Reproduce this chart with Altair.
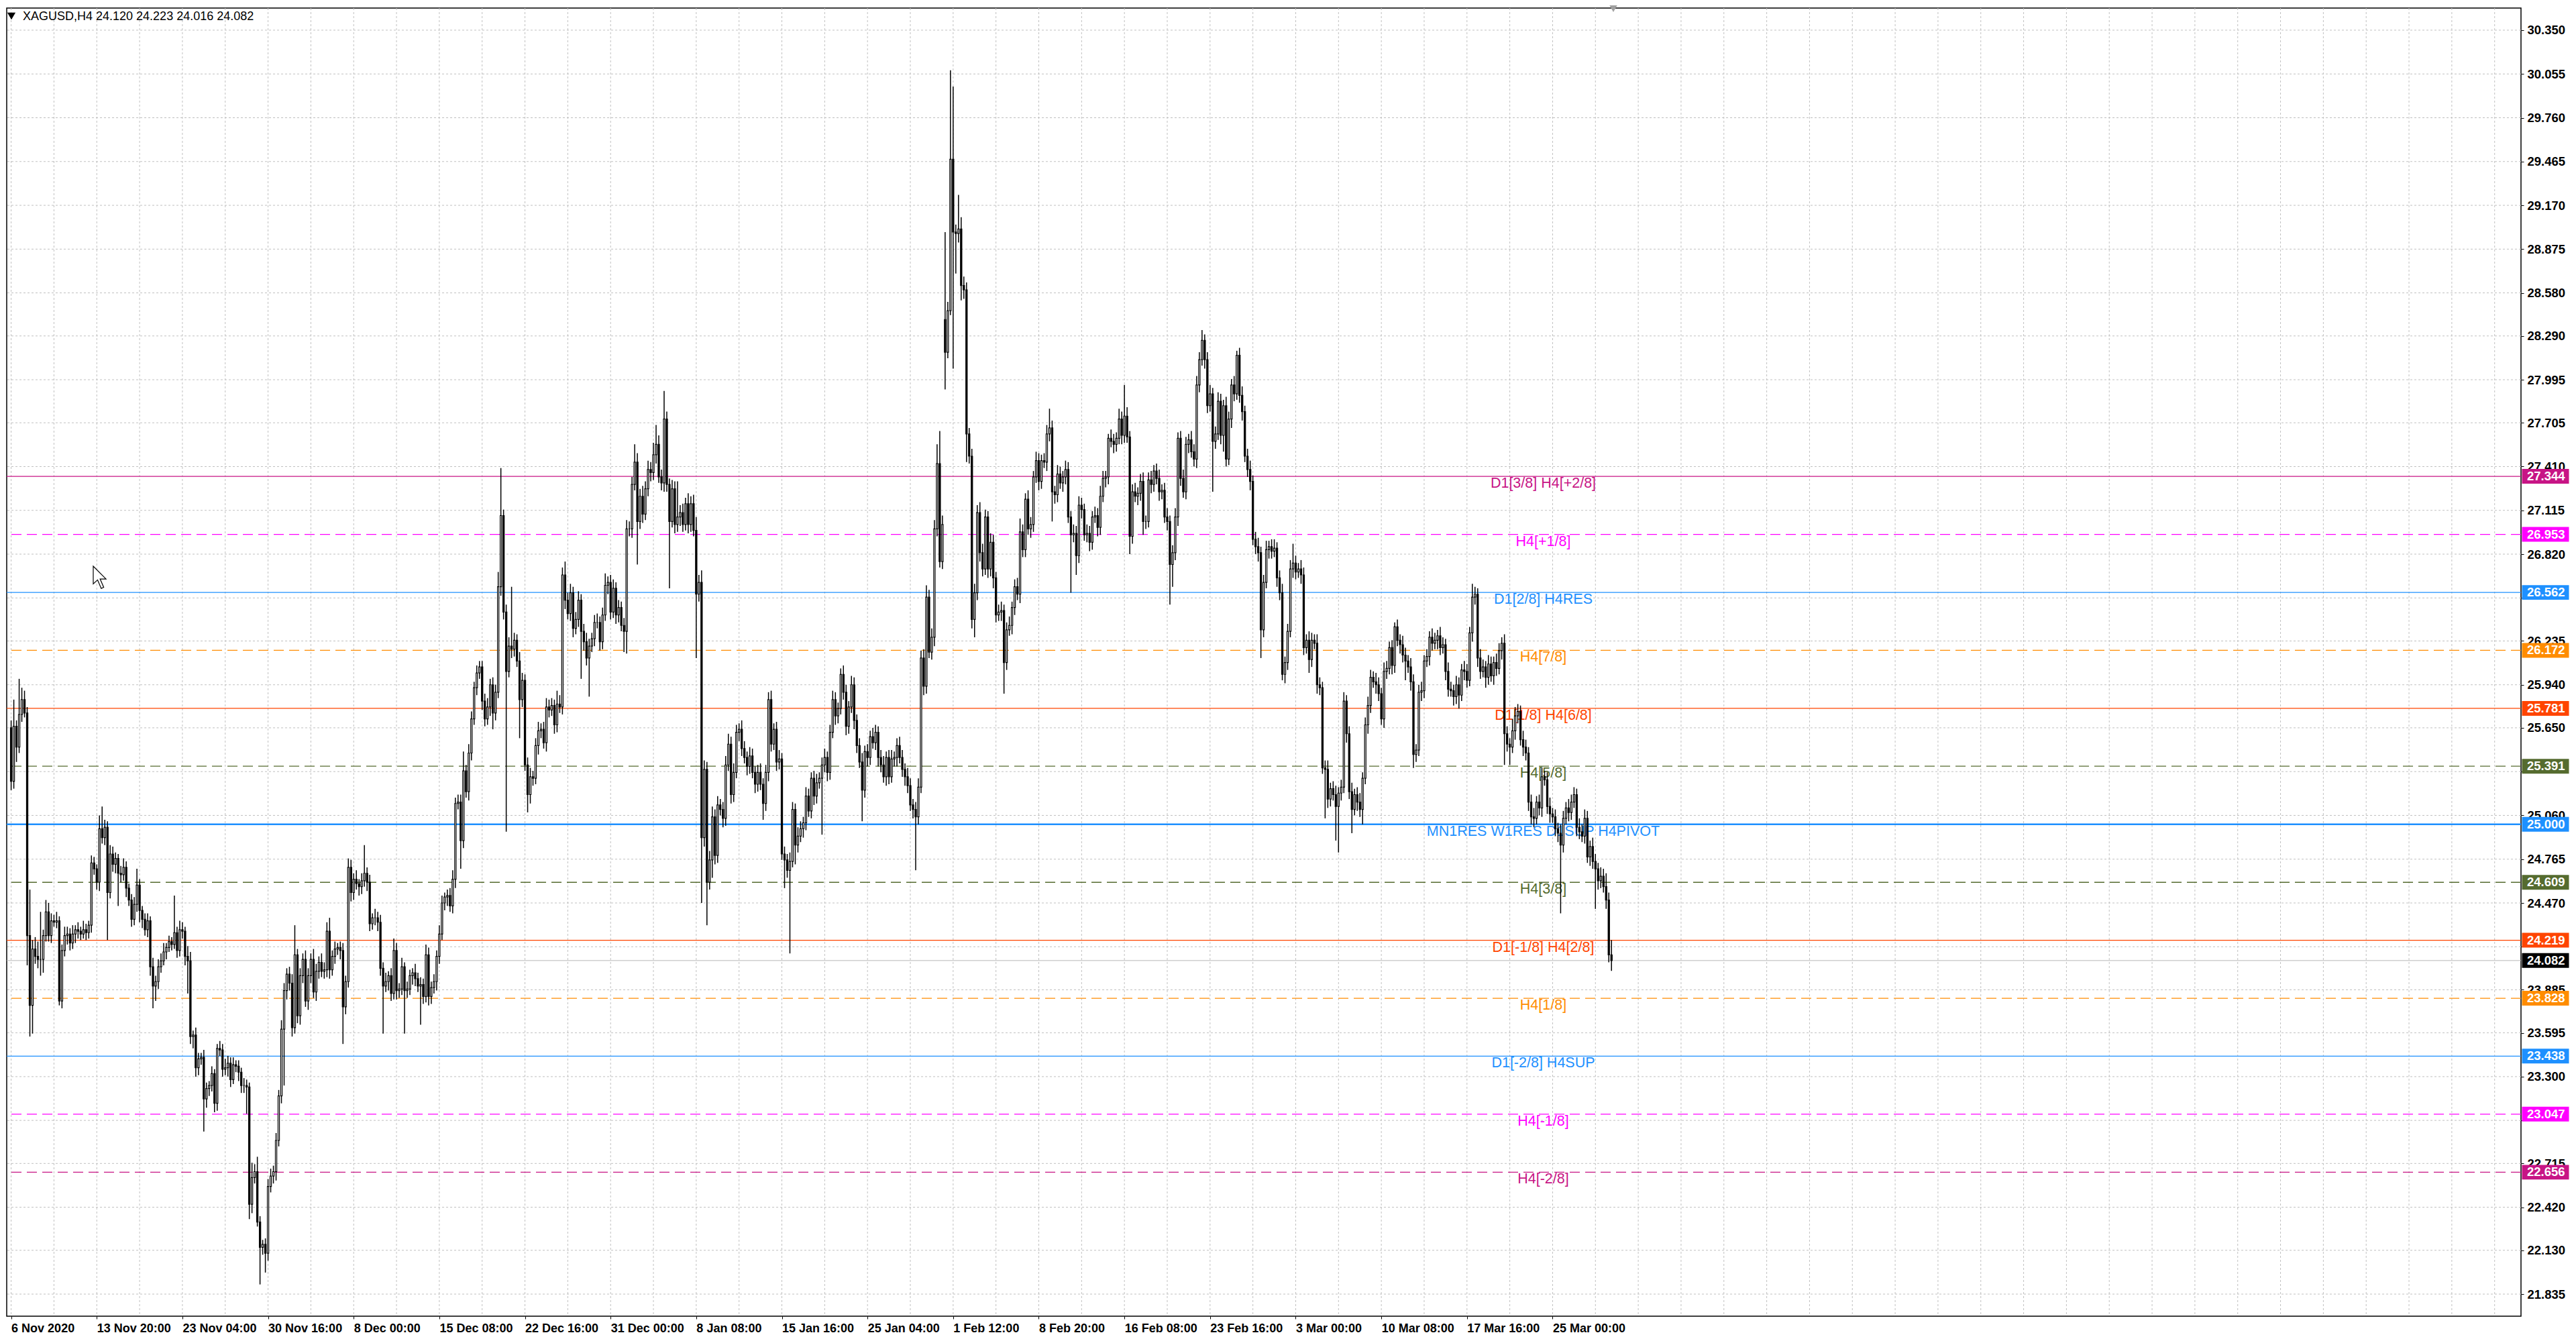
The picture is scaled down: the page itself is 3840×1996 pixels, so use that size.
import altair as alt
import pandas as pd

# -----------------------------
# DATA (XAGUSD H4 candles)
# -----------------------------
first_open = 25.65
gap_opens = {349: 28.40}  # Monday 1 Feb gap

close_nov = [
    25.29, 25.66, 25.52, 25.74, 25.84, 25.75, 24.25, 23.78, 24.16, 24.11,
    24.09, 24.09, 24.25, 24.41, 24.25, 24.35, 24.34, 24.35, 23.81, 24.15,
    24.25, 24.26, 24.20, 24.26, 24.29, 24.28, 24.26, 24.29, 24.27, 24.32,
    24.74, 24.70, 24.61, 24.97, 24.91, 24.98, 24.54, 24.80, 24.73, 24.77,
    24.67, 24.66, 24.71, 24.57, 24.49, 24.36, 24.46, 24.59, 24.42, 24.36,
    24.29, 24.35, 24.04, 23.91, 23.94, 24.04, 24.08, 24.14, 24.17, 24.21,
    24.19, 24.27, 24.15, 24.29, 24.28, 24.11, 24.08, 23.57, 23.58, 23.36,
    23.42, 23.43, 23.15, 23.22, 23.24, 23.32, 23.12, 23.49, 23.48, 23.35,
    23.36, 23.39, 23.28, 23.38, 23.37, 23.33, 23.24, 23.24, 23.23, 22.44,
    22.62, 22.66, 22.32, 22.15, 22.17, 22.11, 22.56, 22.63,
]
close_dec = [
    22.66, 22.87, 23.17, 23.62, 23.88, 23.99, 23.93, 23.63, 24.12, 23.71,
    23.98, 24.09, 23.81, 23.98, 24.09, 23.87, 24.01, 24.07, 24.01, 24.02,
    24.28, 24.02, 24.11, 24.16, 24.17, 24.15, 23.77, 23.94, 24.71, 24.54,
    24.63, 24.60, 24.58, 24.62, 24.67, 24.61, 24.33, 24.37, 24.37, 24.34,
    24.03, 23.91, 23.94, 23.98, 23.86, 24.15, 23.88, 23.89, 24.04, 23.88,
    23.89, 23.98, 24.00, 23.96, 23.91, 23.92, 23.84, 24.12, 23.84, 23.90,
    23.94, 24.11, 24.26, 24.47, 24.51, 24.52, 24.45, 24.63, 25.14, 25.15,
    24.89, 25.36, 25.22, 25.48, 25.71, 25.92, 26.02, 26.06, 25.83, 25.71,
    25.79, 25.94, 25.75, 25.89, 26.60, 27.08, 26.43, 26.03, 26.20, 26.18,
    26.24, 26.10, 25.84, 25.97, 25.40, 25.20, 25.32, 25.31, 25.53, 25.63,
    25.64, 25.55, 25.79, 25.77, 25.80, 25.67, 25.81, 25.79, 26.68, 26.51,
    26.42, 26.56, 26.32, 26.38, 26.51, 26.30, 26.23, 26.12, 26.20, 26.25,
    26.36, 26.36, 26.23, 26.41, 26.61, 26.63, 26.43, 26.59, 26.41, 26.46,
    26.34, 26.30,
]
close_jan = [
    26.99, 26.99, 27.29, 27.44, 27.04, 27.21, 27.09, 27.26, 27.39, 27.37,
    27.49, 27.56, 27.34, 27.30, 27.73, 27.29, 27.04, 27.26, 27.02, 27.07,
    27.10, 27.02, 27.16, 27.02, 27.16, 26.98, 26.55, 26.63, 24.91, 25.37,
    24.61, 24.76, 25.05, 24.79, 25.13, 25.10, 25.04, 25.40, 25.54, 25.20,
    25.35, 25.62, 25.64, 25.51, 25.45, 25.39, 25.46, 25.35, 25.27, 25.35,
    25.27, 25.14, 25.35, 25.84, 25.54, 25.64, 25.42, 25.44, 24.80, 24.76,
    24.69, 24.75, 25.10, 24.86, 24.92, 24.97, 25.01, 25.19, 25.09, 25.31,
    25.19, 25.28, 25.31, 25.40, 25.45, 25.35, 25.62, 25.84, 25.73, 25.78,
    26.01, 25.89, 25.66, 25.79, 25.94, 25.70, 25.53, 25.42, 25.23, 25.49,
    25.45, 25.59, 25.55, 25.62, 25.45, 25.40, 25.32, 25.45, 25.32, 25.44,
    25.45, 25.53, 25.45, 25.37, 25.32, 25.26, 25.13, 25.10, 25.05, 25.25,
    26.12, 25.93, 26.53, 26.16, 26.26, 26.99, 27.43, 26.77, 27.02,
]
close_feb = [
    28.18, 28.46, 29.48, 28.99, 28.98, 29.01, 28.63, 28.60, 27.63, 27.48,
    26.38, 26.56, 27.10, 26.83, 26.72, 27.07, 26.72, 26.90, 26.66, 26.41,
    26.43, 26.44, 26.09, 26.31, 26.34, 26.46, 26.60, 26.55, 26.97, 26.85,
    27.19, 26.99, 27.02, 27.34, 27.45, 27.31, 27.45, 27.44, 27.63, 27.67,
    27.24, 27.22, 27.36, 27.30, 27.34, 27.39, 27.07, 26.95, 26.96, 26.81,
    27.15, 27.12, 26.95, 26.96, 26.90, 27.07, 27.08, 27.00, 27.21, 27.33,
    27.34, 27.60, 27.58, 27.56, 27.60, 27.73, 27.62, 27.75, 27.61, 26.94,
    27.24, 27.21, 27.23, 27.31, 27.04, 27.04, 27.32, 27.29, 27.38, 27.33,
    27.24, 27.25, 27.07, 27.04, 26.75, 26.83, 27.07, 27.60, 27.33, 27.24,
    27.56, 27.59, 27.51, 27.46, 27.96, 28.13, 28.26, 28.13, 27.82, 27.90,
    27.58, 27.63, 27.85, 27.62, 27.82, 27.46, 27.73, 27.96, 27.90, 28.16,
    27.89, 27.78, 27.48, 27.39, 27.31, 26.92, 26.87, 26.83, 26.31,
]
close_mar = [
    26.63, 26.85, 26.87, 26.84, 26.86, 26.66, 26.56, 26.01, 26.09, 26.30,
    26.72, 26.76, 26.70, 26.72, 26.68, 26.19, 26.24, 26.11, 26.24, 26.22,
    25.94, 25.92, 25.38, 25.37, 25.17, 25.24, 25.20, 25.12, 25.21, 25.25,
    25.83, 25.61, 25.22, 25.10, 25.20, 25.15, 25.10, 25.31, 25.67, 25.80,
    25.99, 25.96, 25.94, 25.88, 25.71, 26.03, 26.05, 26.19, 26.07, 26.33,
    26.24, 26.21, 26.14, 26.10, 26.06, 25.96, 25.47, 25.50, 25.89, 25.90,
    26.10, 26.13, 26.26, 26.22, 26.24, 26.27, 26.19, 26.21, 26.03, 25.91,
    25.90, 25.86, 25.94, 25.87, 26.04, 26.03, 25.97, 26.29, 26.53, 26.55,
    26.12, 26.03, 26.06, 25.99, 26.08, 26.00, 26.09, 26.05, 26.17, 26.22,
    25.61, 25.54, 25.52, 25.63, 25.73, 25.76, 25.57, 25.52, 25.48, 25.15,
    25.05, 25.04, 25.15, 25.11, 25.32, 25.30, 25.12, 25.07, 25.05, 24.97,
    24.94, 24.86, 25.04, 25.11, 25.08, 25.15, 25.20, 24.98, 24.95, 24.92,
    25.04, 24.78, 24.85, 24.75, 24.70, 24.62, 24.65, 24.58, 24.49, 24.12,
    24.082,
]

# wick length above / below the body, in cents
up_nov = [5, 18, 4, 24, 8, 6, 4, 31, 6, 8, 10, 32, 4, 8, 6, 5, 4, 6, 3, 4,
          6, 5, 4, 6, 3, 5, 3, 6, 4, 3, 5, 4, 3, 9, 15, 5, 4, 6, 5, 4,
          3, 5, 6, 4, 3, 4, 5, 11, 4, 3, 4, 5, 3, 6, 4, 5, 5, 6, 3, 4,
          3, 25, 4, 6, 5, 3, 7, 6, 3, 5, 4, 3, 5, 4, 3, 5, 3, 3, 5, 4,
          6, 5, 4, 5, 3, 4, 3, 5, 4, 3, 10, 5, 10, 4, 3, 4, 5, 5]
dn_nov = [6, 5, 10, 4, 5, 3, 20, 21, 19, 5, 6, 11, 9, 4, 4, 5, 3, 4, 3, 5,
          4, 6, 5, 4, 6, 5, 4, 3, 5, 4, 5, 4, 5, 6, 4, 5, 32, 4, 5, 6,
          22, 5, 4, 6, 4, 5, 4, 5, 8, 6, 4, 5, 6, 15, 10, 5, 4, 3, 5, 3,
          4, 3, 5, 4, 5, 6, 22, 5, 8, 6, 5, 4, 22, 6, 5, 4, 6, 5, 4, 5,
          4, 6, 5, 3, 4, 6, 5, 5, 18, 10, 6, 4, 3, 25, 5, 13, 5, 4]
up_dec = [4, 5, 4, 6, 5, 4, 5, 6, 20, 4, 5, 4, 6, 5, 4, 7, 5, 4, 6, 5,
          6, 9, 4, 5, 3, 4, 5, 4, 6, 5, 4, 6, 3, 5, 19, 4, 5, 3, 6, 4,
          5, 4, 6, 3, 5, 8, 5, 4, 6, 3, 5, 4, 3, 6, 4, 5, 4, 7, 5, 4,
          5, 4, 6, 5, 3, 4, 5, 6, 4, 5, 5, 13, 4, 6, 5, 4, 5, 4, 4, 5,
          6, 4, 5, 5, 10, 32, 4, 5, 6, 40, 5, 4, 6, 5, 4, 5, 6, 4, 5, 6,
          4, 5, 6, 5, 5, 4, 9, 6, 5, 9, 5, 6, 4, 5, 6, 4, 5, 6, 5, 4,
          5, 6, 4, 5, 8, 4, 5, 6, 4, 5, 4, 5]
dn_dec = [5, 6, 4, 5, 38, 6, 5, 6, 4, 5, 6, 5, 4, 6, 5, 4, 6, 5, 4, 5,
          5, 6, 4, 5, 4, 6, 25, 5, 4, 6, 5, 4, 6, 5, 4, 6, 5, 4, 5, 6,
          5, 32, 4, 6, 5, 4, 6, 5, 4, 29, 5, 4, 6, 5, 4, 26, 5, 4, 6, 5,
          4, 6, 5, 4, 5, 6, 4, 5, 6, 4, 19, 5, 4, 6, 5, 4, 5, 4, 6, 5,
          4, 6, 11, 5, 4, 6, 5, 108, 4, 6, 5, 4, 26, 5, 4, 12, 6, 5, 4, 6,
          5, 4, 6, 5, 4, 6, 5, 4, 5, 6, 4, 5, 6, 4, 5, 32, 6, 5, 26, 4,
          5, 4, 6, 5, 4, 6, 5, 4, 6, 5, 4, 14]
up_jan = [6, 5, 5, 12, 6, 5, 7, 5, 6, 5, 8, 13, 6, 5, 19, 5, 4, 6, 5, 24,
          5, 6, 4, 7, 5, 6, 9, 5, 8, 6, 5, 6, 7, 5, 6, 4, 5, 6, 7, 5,
          6, 5, 4, 6, 5, 4, 6, 5, 4, 5, 6, 4, 5, 5, 6, 4, 5, 6, 4, 5,
          4, 6, 5, 4, 6, 5, 4, 6, 5, 4, 5, 6, 4, 5, 6, 4, 5, 6, 5, 4,
          4, 6, 5, 4, 6, 5, 4, 5, 6, 4, 5, 4, 6, 5, 4, 5, 6, 4, 5, 6,
          4, 5, 6, 5, 4, 6, 5, 4, 5, 6, 5, 6, 8, 5, 6, 6, 13, 22, 6]
dn_jan = [15, 5, 6, 4, 29, 5, 6, 4, 5, 6, 5, 6, 4, 5, 6, 5, 45, 4, 6, 5,
          6, 5, 4, 6, 5, 4, 43, 5, 44, 6, 29, 5, 12, 6, 5, 4, 6, 5, 4, 6,
          5, 4, 6, 5, 4, 6, 5, 4, 6, 5, 4, 11, 5, 6, 5, 4, 6, 5, 4, 19,
          5, 56, 4, 13, 5, 4, 6, 5, 4, 5, 6, 5, 4, 38, 5, 6, 5, 4, 6, 5,
          4, 5, 6, 5, 4, 6, 5, 4, 21, 5, 6, 5, 4, 5, 6, 5, 4, 6, 5, 4,
          5, 6, 4, 5, 6, 5, 4, 6, 36, 5, 4, 6, 5, 4, 5, 6, 5, 4, 5]
up_feb = [59, 6, 60, 49, 5, 23, 8, 6, 5, 4, 5, 6, 5, 7, 6, 5, 4, 6, 5, 4,
          5, 6, 4, 5, 6, 4, 5, 6, 9, 5, 4, 6, 5, 4, 6, 5, 4, 5, 6, 13,
          5, 4, 6, 5, 4, 6, 5, 4, 6, 5, 6, 5, 4, 6, 5, 4, 6, 5, 7, 5,
          4, 3, 6, 5, 4, 7, 5, 21, 6, 4, 5, 6, 4, 5, 6, 4, 5, 6, 4, 5,
          6, 4, 5, 6, 4, 5, 6, 4, 5, 6, 5, 4, 6, 5, 6, 5, 7, 4, 5, 6,
          4, 5, 6, 5, 4, 6, 5, 4, 6, 3, 5, 6, 4, 5, 6, 4, 5, 6, 4]
dn_feb = [25, 4, 3, 92, 27, 6, 10, 6, 19, 5, 6, 12, 5, 6, 5, 4, 6, 5, 7, 5,
          4, 6, 21, 5, 4, 6, 5, 4, 6, 5, 5, 4, 6, 5, 4, 6, 5, 4, 6, 5,
          20, 6, 5, 4, 6, 5, 4, 39, 5, 13, 5, 6, 4, 5, 6, 5, 4, 6, 5, 4,
          6, 5, 4, 6, 5, 4, 6, 5, 4, 12, 5, 4, 6, 5, 9, 5, 4, 6, 5, 4,
          6, 5, 4, 6, 27, 15, 5, 6, 5, 4, 5, 6, 4, 5, 6, 5, 4, 6, 5, 4,
          34, 5, 4, 6, 11, 5, 4, 6, 5, 4, 5, 6, 4, 5, 6, 4, 5, 6, 19]
up_mar = [5, 6, 4, 5, 6, 4, 5, 6, 4, 5, 6, 13, 5, 4, 6, 5, 4, 6, 5, 4,
          6, 5, 4, 5, 6, 4, 5, 6, 4, 5, 6, 4, 5, 6, 4, 5, 6, 4, 5, 6,
          5, 4, 6, 5, 4, 6, 5, 4, 5, 3, 5, 4, 6, 5, 4, 6, 5, 4, 5, 6,
          4, 5, 4, 6, 5, 4, 6, 5, 4, 6, 5, 4, 6, 5, 4, 6, 5, 4, 9, 5,
          4, 6, 5, 4, 6, 5, 4, 6, 5, 4, 6, 5, 4, 8, 6, 5, 4, 6, 5, 4,
          5, 6, 4, 5, 6, 4, 5, 6, 4, 5, 4, 6, 5, 4, 6, 5, 5, 4, 6, 5,
          6, 5, 4, 6, 5, 4, 6, 5, 9, 5, 10]
dn_mar = [5, 4, 6, 5, 4, 6, 5, 4, 6, 5, 4, 6, 5, 4, 6, 5, 4, 9, 5, 4,
          6, 5, 4, 33, 6, 5, 4, 23, 31, 5, 4, 6, 5, 16, 4, 6, 5, 10, 4, 6,
          5, 4, 6, 5, 4, 6, 5, 4, 6, 5, 4, 6, 5, 13, 4, 6, 9, 5, 4, 6,
          5, 4, 6, 5, 4, 6, 5, 4, 6, 5, 4, 6, 5, 9, 4, 6, 5, 4, 6, 5,
          6, 5, 4, 7, 5, 4, 6, 5, 4, 6, 21, 5, 12, 4, 6, 5, 4, 6, 5, 6,
          5, 6, 4, 5, 6, 4, 5, 6, 4, 5, 6, 46, 5, 4, 6, 5, 4, 6, 5, 4,
          5, 4, 6, 5, 27, 6, 5, 4, 6, 5, 7]

# Murrey-style levels drawn on the chart
levels = [27.344, 26.953, 26.562, 26.172, 25.781, 25.391, 25.000,
          24.609, 24.219, 23.828, 23.438, 23.047, 22.656]
level_names = ["D1[3/8] H4[+2/8]", "H4[+1/8]", "D1[2/8] H4RES", "H4[7/8]",
               "D1[1/8] H4[6/8]", "H4[5/8]", "MN1RES W1RES D1SUP H4PIVOT",
               "H4[3/8]", "D1[-1/8] H4[2/8]", "H4[1/8]", "D1[-2/8] H4SUP",
               "H4[-1/8]", "H4[-2/8]"]
level_colors = ["#C71585", "#FF00FF", "#1E90FF", "#FF8C00", "#FF4500",
                "#556B2F", "#1E90FF", "#556B2F", "#FF4500", "#FF8C00",
                "#1E90FF", "#FF00FF", "#C71585"]
level_dashed = [False, True, False, True, False, True, False,
                True, False, True, False, True, True]
level_width = [1.3, 1.3, 1.3, 1.3, 1.3, 1.3, 2.6, 1.3, 1.3, 1.3, 1.3, 1.3, 1.3]

last_price = 24.082
title_text = "XAGUSD,H4  24.120 24.223 24.016 24.082"

price_ticks = [30.350, 30.055, 29.760, 29.465, 29.170, 28.875, 28.580, 28.290,
               27.995, 27.705, 27.410, 27.115, 26.820, 26.525, 26.235, 25.940,
               25.650, 25.355, 25.060, 24.765, 24.470, 24.175, 23.885, 23.595,
               23.300, 23.005, 22.715, 22.420, 22.130, 21.835]
hidden_ticks = [26.525, 25.355, 24.175, 23.005]

date_labels = ["6 Nov 2020", "13 Nov 20:00", "23 Nov 04:00", "30 Nov 16:00",
               "8 Dec 00:00", "15 Dec 08:00", "22 Dec 16:00", "31 Dec 00:00",
               "8 Jan 08:00", "15 Jan 16:00", "25 Jan 04:00", "1 Feb 12:00",
               "8 Feb 20:00", "16 Feb 08:00", "23 Feb 16:00", "3 Mar 00:00",
               "10 Mar 08:00", "17 Mar 16:00", "25 Mar 00:00"]
BARS_PER_LABEL = 32

# -----------------------------
# BUILD TABLES
# -----------------------------
closes = close_nov + close_dec + close_jan + close_feb + close_mar
ups = up_nov + up_dec + up_jan + up_feb + up_mar
dns = dn_nov + dn_dec + dn_jan + dn_feb + dn_mar

rows = []
prev = first_open
for i, c in enumerate(closes):
    o = gap_opens.get(i, prev)
    rows.append({
        "i": i,
        "open": o,
        "close": c,
        "high": max(o, c) + ups[i] / 100,
        "low": min(o, c) - dns[i] / 100,
        "bull": c >= o,
    })
    prev = c
bars = pd.DataFrame(rows)

lv = pd.DataFrame({
    "price": levels,
    "name": level_names,
    "color": level_colors,
    "dashed": level_dashed,
    "width": level_width,
})
boxes = pd.concat([
    lv[["price", "color"]],
    pd.DataFrame({"price": [last_price], "color": ["#000000"]}),
], ignore_index=True)

# -----------------------------
# SCALES / AXES
# -----------------------------
W, H = 3748, 1950
FONT = "Liberation Sans"
AXIS_SIZE = 18.5

x_scale = alt.Scale(domain=[-0.4, 936.6], nice=False, zero=False)
y_scale = alt.Scale(domain=[21.686, 30.499], nice=False, zero=False)

tick_pos = [k * BARS_PER_LABEL for k in range(len(date_labels))]
labels_js = "[" + ",".join("'" + s + "'" for s in date_labels) + "]"
x_axis = alt.Axis(
    orient="bottom", values=tick_pos, grid=False, domain=False,
    labelExpr=f"{labels_js}[round(datum.value / {BARS_PER_LABEL})]",
    labelAlign="left", labelFlush=False, labelOverlap=False,
    labelFont=FONT, labelFontSize=18, labelFontWeight="bold",
    labelColor="black", labelPadding=5,
    tickSize=4, tickColor="black", title=None,
)
hidden_js = "[" + ",".join(str(v) for v in hidden_ticks) + "]"
y_axis = alt.Axis(
    orient="right", values=price_ticks, grid=False, domain=False,
    labelExpr=f"indexof({hidden_js}, datum.value) >= 0 ? '' : format(datum.value, '.3f')",
    labelOverlap=False, labelFlush=False,
    labelFont=FONT, labelFontSize=AXIS_SIZE, labelFontWeight="bold",
    labelColor="black", labelPadding=5,
    tickSize=4, tickColor="black", title=None,
)


def X(field):
    return alt.X(field, scale=x_scale, axis=x_axis)


def Y(field):
    return alt.Y(field, scale=y_scale, axis=y_axis)


# -----------------------------
# LAYERS
# -----------------------------
grid_y = alt.Chart(pd.DataFrame({"p": price_ticks})).mark_rule(
    color="#c0c0c0", strokeDash=[3, 3], strokeWidth=1
).encode(y=Y("p:Q"))

grid_x = alt.Chart(pd.DataFrame({"g": list(range(0, 937, 16))})).mark_rule(
    color="#c0c0c0", strokeDash=[3, 3], strokeWidth=1
).encode(x=X("g:Q"))

solid_lines = alt.Chart(lv[~lv["dashed"]]).mark_rule().encode(
    y=Y("price:Q"),
    color=alt.Color("color:N", scale=None),
    strokeWidth=alt.StrokeWidth("width:Q", scale=None),
)
dashed_lines = alt.Chart(lv[lv["dashed"]]).mark_rule(strokeDash=[15, 8]).encode(
    y=Y("price:Q"),
    color=alt.Color("color:N", scale=None),
    strokeWidth=alt.StrokeWidth("width:Q", scale=None),
)

level_text = alt.Chart(lv).transform_calculate(xl="572.5").mark_text(
    font=FONT, fontSize=21.5, align="center", baseline="middle", dy=11
).encode(
    x=X("xl:Q"),
    y=Y("price:Q"),
    text="name:N",
    color=alt.Color("color:N", scale=None),
)

last_line = alt.Chart(pd.DataFrame({"price": [last_price]})).mark_rule(
    color="#b8b8b8", strokeWidth=1
).encode(y=Y("price:Q"))

wicks = alt.Chart(bars).mark_rule(color="black", strokeWidth=1.5).encode(
    x=X("i:Q"),
    y=Y("low:Q"),
    y2="high:Q",
)
bodies = alt.Chart(bars).mark_bar(size=2.1, stroke="black", strokeWidth=1.2).encode(
    x=X("i:Q"),
    y=Y("open:Q"),
    y2="close:Q",
    fill=alt.condition("datum.bull", alt.value("white"), alt.value("black")),
)

box_shape = "M-1,-0.314L1,-0.314L1,0.314L-1,0.314Z"
price_boxes = alt.Chart(boxes).mark_point(
    shape=box_shape, filled=True, size=4900, opacity=1, strokeWidth=0
).encode(
    x=alt.value(W + 36.5),
    y=Y("price:Q"),
    color=alt.Color("color:N", scale=None),
)
price_box_text = alt.Chart(boxes).mark_text(
    font=FONT, fontSize=AXIS_SIZE, fontWeight="bold", align="left",
    baseline="middle", color="white"
).encode(
    x=alt.value(W + 9),
    y=Y("price:Q"),
    text=alt.Text("price:Q", format=".3f"),
)

title_df = pd.DataFrame({"t": [title_text]})
title_mark = alt.Chart(title_df).mark_text(
    font=FONT, fontSize=18, align="left", baseline="alphabetic", color="black"
).encode(x=alt.value(24), y=alt.value(18), text="t:N")
title_arrow = alt.Chart(title_df).mark_point(
    shape="triangle-down", filled=True, size=150, color="black", opacity=1
).encode(x=alt.value(7), y=alt.value(12))
shift_marker = alt.Chart(title_df).mark_point(
    shape="triangle-down", filled=True, size=130, color="#a0a0a0", opacity=1
).encode(x=alt.value(2395), y=alt.value(1))

# mouse pointer left on the chart
cursor_shape = "M-1,-1L-1,0.55L-0.62,0.2L-0.3,0.95L-0.08,0.85L-0.4,0.12L0.12,0.12Z"
cursor = alt.Chart(title_df).mark_point(
    shape=cursor_shape, filled=True, size=1156, fill="white", stroke="black",
    strokeWidth=1.2, opacity=1
).encode(x=alt.value(146), y=alt.value(849))

chart = alt.layer(
    grid_y, grid_x, solid_lines, dashed_lines, level_text, last_line,
    wicks, bodies, price_boxes, price_box_text,
    title_mark, title_arrow, shift_marker, cursor,
).properties(
    width=W, height=H, padding=0, background="white"
).configure_view(
    stroke="black", strokeWidth=1.5
)

chart.save("out.html", embed_options={"renderer": "svg", "actions": False})
